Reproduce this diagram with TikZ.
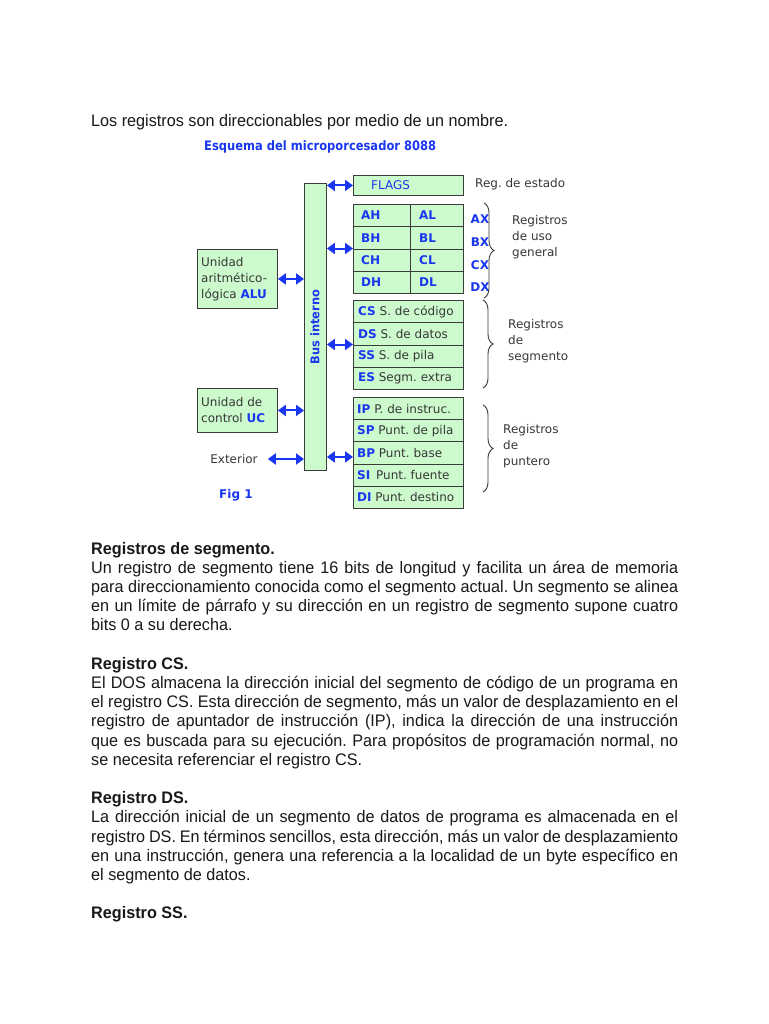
\documentclass[tikz,border=0pt]{standalone}
\usepackage{fontspec}
\usepackage{graphicx}
\setmainfont{Liberation Sans}
\newfontfamily\bodyfont{Liberation Sans}[FakeStretch=0.97]
\newfontfamily\diagfont{DejaVu Sans}
\usetikzlibrary{arrows.meta,decorations.pathreplacing,calc}
\definecolor{myblue}{RGB}{25,55,240}
\definecolor{boxgreen}{RGB}{204,250,204}
\definecolor{boxline}{RGB}{60,60,60}
\definecolor{txtgray}{RGB}{55,55,55}
\definecolor{bodytxt}{RGB}{25,25,25}
\newcommand\jline[1]{\makebox[587pt][s]{#1}}
\frenchspacing
\begin{document}
\begin{tikzpicture}[x=1pt,y=-1pt,
  cell/.style={draw=boxline, fill=boxgreen, line width=0.9pt, inner sep=0pt, anchor=north west},
  dlab/.style={font=\diagfont\fontsize{12}{17}\selectfont, text=txtgray, inner sep=0pt},
  blab/.style={font=\diagfont\bfseries\fontsize{12}{17}\selectfont, text=myblue, inner sep=0pt},
  rlab/.style={font=\diagfont\fontsize{12}{17}\selectfont, text=txtgray, inner sep=0pt, anchor=west},
  sidelab/.style={font=\diagfont\fontsize{12}{16}\selectfont, text=txtgray, inner sep=0pt, align=left, anchor=west},
  biarrow/.style={draw=myblue, line width=2pt, {Triangle[length=8pt,width=11pt]}-{Triangle[length=8pt,width=11pt]}},
  curly/.style={decorate, decoration={brace, amplitude=10pt}, draw=txtgray, line width=0.9pt},
  body/.style={font=\bodyfont\fontsize{16.7}{19}\selectfont, text=bodytxt, inner sep=0pt, anchor=base west},
  bodyb/.style={font=\bodyfont\bfseries\fontsize{16.7}{19}\selectfont, text=bodytxt, inner sep=0pt, anchor=base west}
]
\useasboundingbox[fill=white] (0,0) rectangle (768,1024);

% top sentence
\node[body] (intro) at (91,127) {Los registros son direccionables por medio de un nombre.};

% title
\node[font=\diagfont\bfseries\fontsize{13}{15}\selectfont, text=myblue, anchor=west, inner sep=0pt] (title) at (204,147) {\scalebox{0.885}[1]{Esquema del microporcesador 8088}};

% bus
\node[cell, minimum width=22pt, minimum height=287pt] (bus) at (304,183) {};
\node[font=\diagfont\bfseries\fontsize{12}{14}\selectfont, text=myblue, inner sep=0pt, rotate=90] (busl) at (315,327) {\scalebox{0.95}[1]{Bus interno}};

% flags
\node[cell, minimum width=110pt, minimum height=20pt] (flags) at (353,175) {};
\node[dlab, text=myblue, anchor=west] (flagsl) at (371,185) {FLAGS};
\node[dlab, anchor=west] (estado) at (475,184) {Reg. de estado};

% general registers
\node[cell, minimum width=57pt, minimum height=22.25pt] (ah) at (353,204) {};
\node[cell, minimum width=53pt, minimum height=22.25pt] (al) at (410,204) {};
\node[cell, minimum width=57pt, minimum height=22.25pt] (bh) at (353,226.25) {};
\node[cell, minimum width=53pt, minimum height=22.25pt] (bl) at (410,226.25) {};
\node[cell, minimum width=57pt, minimum height=22.25pt] (ch) at (353,248.5) {};
\node[cell, minimum width=53pt, minimum height=22.25pt] (cl) at (410,248.5) {};
\node[cell, minimum width=57pt, minimum height=22.25pt] (dh) at (353,270.75) {};
\node[cell, minimum width=53pt, minimum height=22.25pt] (dl) at (410,270.75) {};
\node[blab, anchor=west] (ahl) at ([xshift=8pt]ah.west) {AH};
\node[blab, anchor=west] (all) at ([xshift=9pt]al.west) {AL};
\node[blab, anchor=west] (bhl) at ([xshift=8pt]bh.west) {BH};
\node[blab, anchor=west] (bll) at ([xshift=9pt]bl.west) {BL};
\node[blab, anchor=west] (chl) at ([xshift=8pt]ch.west) {CH};
\node[blab, anchor=west] (cll) at ([xshift=9pt]cl.west) {CL};
\node[blab, anchor=west] (dhl) at ([xshift=8pt]dh.west) {DH};
\node[blab, anchor=west] (dll) at ([xshift=9pt]dl.west) {DL};
\node[blab] (ax) at (480,219) {AX};
\node[blab] (bx) at (480,242) {BX};
\node[blab] (cx) at (480,265) {CX};
\node[blab] (dx) at (480,287) {DX};
\draw[curly] (484,203) -- (484,298);
\node[sidelab] (gen) at (512,237) {Registros\\de uso\\general};

% segment registers
\node[cell, minimum width=110pt, minimum height=22.25pt] (cs) at (353,300) {};
\node[cell, minimum width=110pt, minimum height=22.25pt] (ds) at (353,322.25) {};
\node[cell, minimum width=110pt, minimum height=22.25pt] (ss) at (353,344.5) {};
\node[cell, minimum width=110pt, minimum height=22.25pt] (es) at (353,366.75) {};
\node[rlab] (csl) at ([xshift=5pt]cs.west) {{\bfseries\color{myblue}CS} S. de código};
\node[rlab] (dsl) at ([xshift=5pt]ds.west) {{\bfseries\color{myblue}DS} S. de datos};
\node[rlab] (ssl) at ([xshift=5pt]ss.west) {{\bfseries\color{myblue}SS} S. de pila};
\node[rlab] (esl) at ([xshift=5pt]es.west) {{\bfseries\color{myblue}ES} Segm. extra};
\draw[curly] (483,300) -- (483,388);
\node[sidelab] (seg) at (508,341) {Registros\\de\\segmento};

% pointer registers
\node[cell, minimum width=110pt, minimum height=22.2pt] (ip) at (353,397) {};
\node[cell, minimum width=110pt, minimum height=22.2pt] (sp) at (353,419.2) {};
\node[cell, minimum width=110pt, minimum height=22.2pt] (bp) at (353,441.4) {};
\node[cell, minimum width=110pt, minimum height=22.2pt] (si) at (353,463.6) {};
\node[cell, minimum width=110pt, minimum height=22.2pt] (di) at (353,485.8) {};
\node[rlab] (ipl) at ([xshift=4pt]ip.west) {{\bfseries\color{myblue}IP} P. de instruc.};
\node[rlab] (spl) at ([xshift=4pt]sp.west) {{\bfseries\color{myblue}SP} Punt. de pila};
\node[rlab] (bpl) at ([xshift=4pt]bp.west) {{\bfseries\color{myblue}BP} Punt. base};
\node[rlab] (sil) at ([xshift=4pt]si.west) {{\bfseries\color{myblue}SI}\, Punt. fuente};
\node[rlab] (dil) at ([xshift=4pt]di.west) {{\bfseries\color{myblue}DI} Punt. destino};
\draw[curly] (483,405) -- (483,492);
\node[sidelab] (pun) at (503,446) {Registros\\de\\puntero};

% ALU, UC, exterior
\node[cell, minimum width=80pt, minimum height=59pt] (alu) at (197,249) {};
\node[sidelab] (alut) at ([xshift=4pt]alu.west) {\fontsize{12}{17}\selectfont Unidad\\aritmético-\\lógica {\bfseries\color{myblue}ALU}};
\node[cell, minimum width=80pt, minimum height=44pt] (uc) at (197,388) {};
\node[sidelab] (uct) at ([xshift=4pt]uc.west) {\fontsize{12}{17}\selectfont Unidad de\\control {\bfseries\color{myblue}UC}};
\node[dlab] (ext) at (234,459) {Exterior};
\node[blab, anchor=west] (fig) at (219,495) {Fig 1};

% connectors
\draw[biarrow] (bus.east |- flags.west) -- (flags.west);
\draw[biarrow] (bus.east |- ch.north west) -- (ch.north west);
\draw[biarrow] (bus.east |- ss.north west) -- (ss.north west);
\draw[biarrow] ([yshift=-4pt]bus.east |- bp.west) -- ([yshift=-4pt]bp.west);
\draw[biarrow] (alu.east) -- (alu.east -| bus.west);
\draw[biarrow] (uc.east) -- (uc.east -| bus.west);
\draw[biarrow] ([xshift=10pt]ext.east) -- (ext.east -| bus.west);

% body text
\node[bodyb] (h1) at (91,554) {Registros de segmento.};
\node[body] (p1a) at (91,573.2) {\jline{Un registro de segmento tiene 16 bits de longitud y facilita un área de memoria}};
\node[body] (p1b) at (91,592.4) {\jline{para direccionamiento conocida como el segmento actual. Un segmento se alinea}};
\node[body] (p1c) at (91,611.6) {\jline{en un límite de párrafo y su dirección en un registro de segmento supone cuatro}};
\node[body] (p1d) at (91,630.8) {bits 0 a su derecha.};

\node[bodyb] (h2) at (91,669.2) {Registro CS.};
\node[body] (p2a) at (91,688.4) {\jline{El DOS almacena la dirección inicial del segmento de código de un programa en}};
\node[body] (p2b) at (91,707.6) {\jline{el registro CS. Esta dirección de segmento, más un valor de desplazamiento en el}};
\node[body] (p2c) at (91,726.8) {\jline{registro de apuntador de instrucción (IP), indica la dirección de una instrucción}};
\node[body] (p2d) at (91,746) {\jline{que es buscada para su ejecución. Para propósitos de programación normal, no}};
\node[body] (p2e) at (91,765.2) {se necesita referenciar el registro CS.};

\node[bodyb] (h3) at (91,803.6) {Registro DS.};
\node[body] (p3a) at (91,822.8) {\jline{La dirección inicial de un segmento de datos de programa es almacenada en el}};
\node[body] (p3b) at (91,842) {\jline{registro DS. En términos sencillos, esta dirección, más un valor de desplazamiento}};
\node[body] (p3c) at (91,861.2) {\jline{en una instrucción, genera una referencia a la localidad de un byte específico en}};
\node[body] (p3d) at (91,880.4) {el segmento de datos.};

\node[bodyb] (h4) at (91,918.8) {Registro SS.};
\end{tikzpicture}
\end{document}
